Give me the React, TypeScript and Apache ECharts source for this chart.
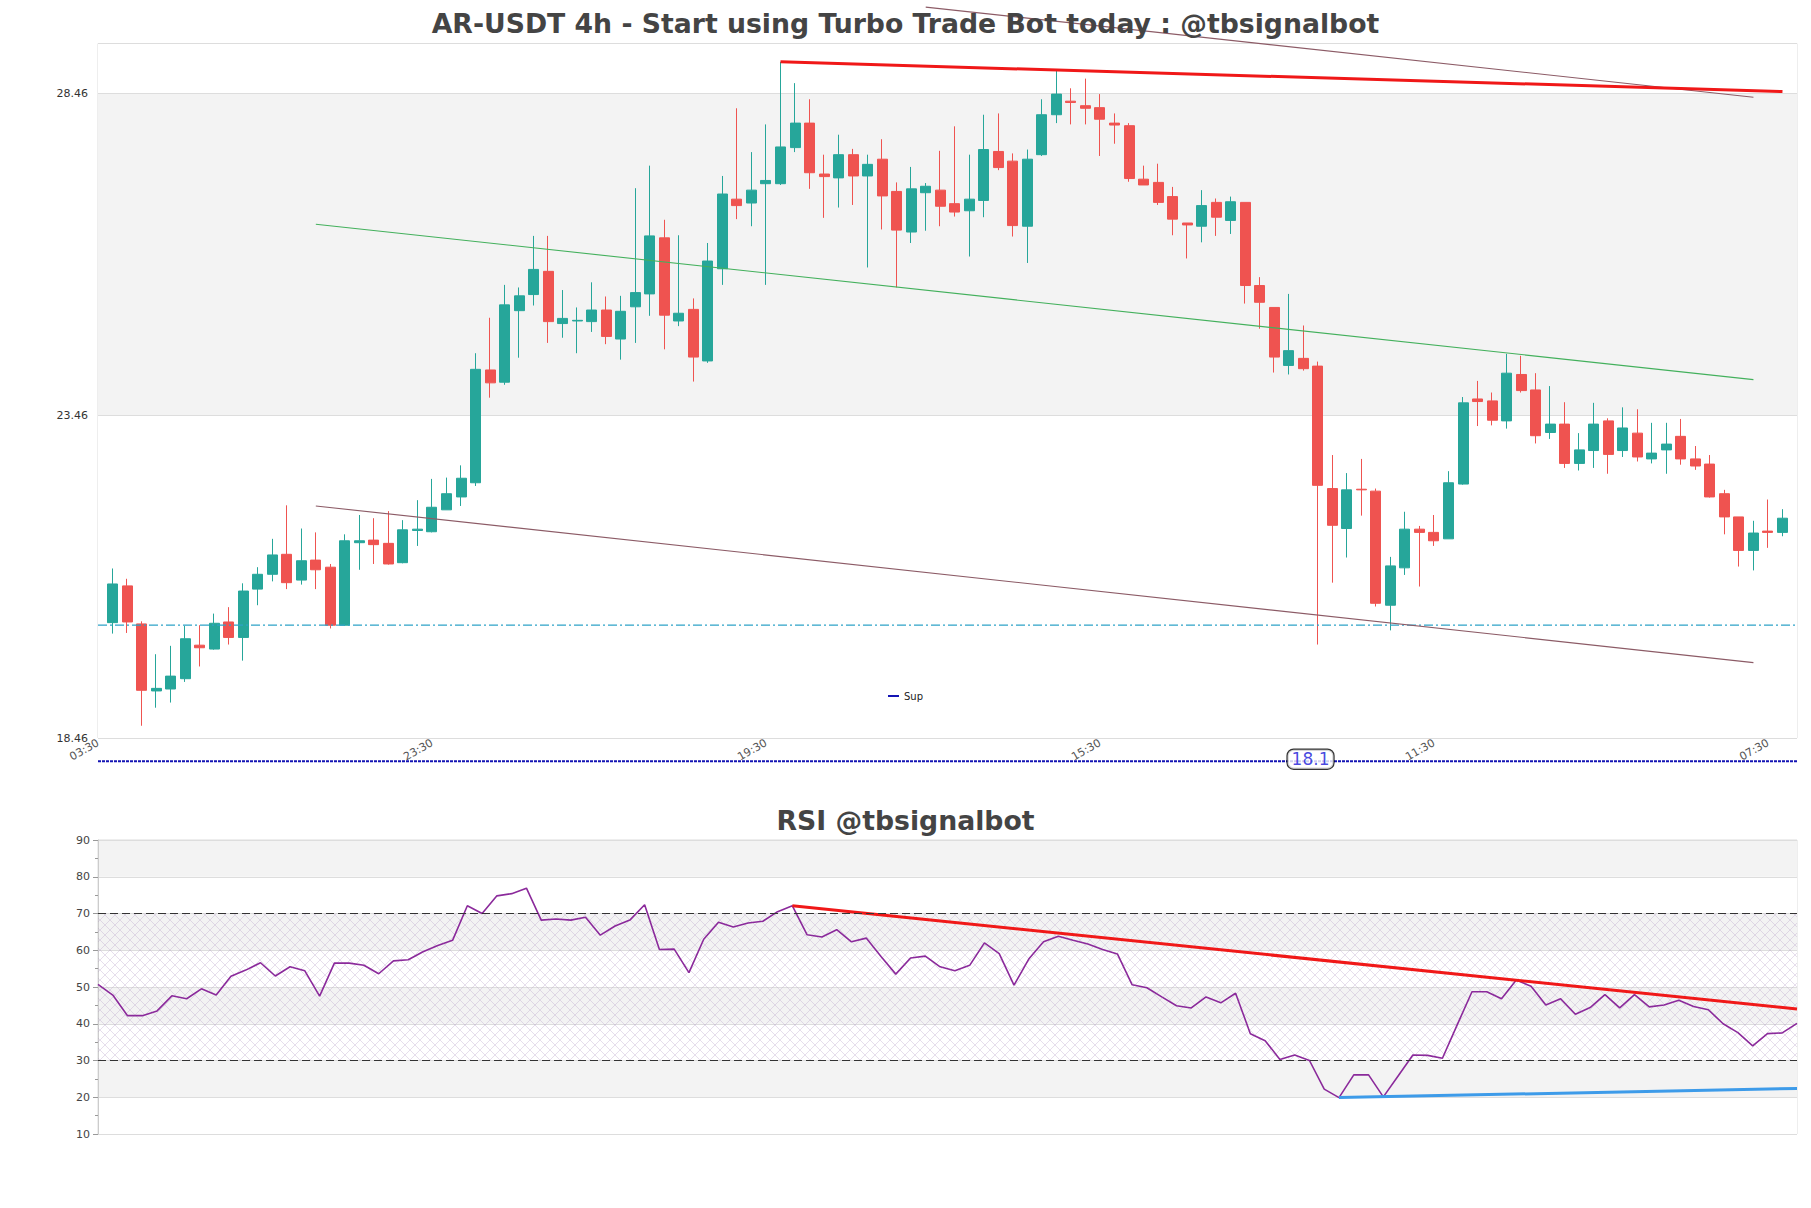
import React, { useEffect, useRef } from "react";
import * as echarts from "echarts";

const FONT = "DejaVu Sans";

// Candle data (index 0..115, 4h candles)
const candleOpen = [
  20.25, 20.82, 20.23, 19.19, 19.22, 19.38, 19.9, 19.84, 20.26, 20.02,
  20.77, 21.0, 21.31, 20.91, 21.22, 21.11, 20.21, 21.49, 21.53, 21.48,
  21.18, 21.68, 21.66, 22.0, 22.2, 22.42, 24.17, 23.98, 25.09, 25.34,
  25.7, 24.89, 24.93, 24.92, 25.1, 24.65, 25.15, 25.35, 26.22, 24.93,
  25.11, 24.31, 25.74, 26.82, 26.76, 27.06, 27.06, 27.62, 28.0, 27.21,
  27.15, 27.51, 27.18, 27.44, 26.94, 26.31, 26.92, 26.96, 26.75, 26.64,
  26.8, 27.56, 27.41, 26.4, 27.51, 28.13, 28.34, 28.27, 28.24, 28.0,
  27.96, 27.13, 27.08, 26.86, 26.45, 26.4, 26.77, 26.49, 26.77, 25.48,
  25.14, 24.24, 24.35, 24.23, 22.33, 21.71, 22.32, 22.29, 20.52, 21.1,
  21.7, 21.65, 21.55, 22.4, 23.72, 23.69, 23.38, 24.1, 23.86, 23.2,
  23.33, 22.72, 22.92, 23.38, 22.92, 23.19, 22.79, 22.93, 23.14, 22.79,
  22.71, 22.25, 21.89, 21.37, 21.67, 21.65,
];
const candleClose = [
  20.85, 20.26, 19.2, 19.23, 19.42, 20.0, 19.86, 20.24, 20.02, 20.74,
  21.0, 21.3, 20.87, 21.21, 21.07, 20.21, 21.52, 21.52, 21.46, 21.16,
  21.69, 21.7, 22.04, 22.25, 22.49, 24.18, 23.97, 25.18, 25.32, 25.73,
  24.92, 24.97, 24.94, 25.1, 24.69, 25.08, 25.37, 26.25, 25.02, 25.05,
  24.37, 25.86, 26.9, 26.72, 26.96, 27.11, 27.63, 28.0, 27.23, 27.17,
  27.51, 27.18, 27.36, 26.87, 26.34, 26.98, 27.02, 26.71, 26.62, 26.82,
  27.59, 27.31, 26.41, 27.44, 28.13, 28.45, 28.32, 28.23, 28.06, 27.97,
  27.14, 27.04, 26.77, 26.51, 26.42, 26.72, 26.54, 26.78, 25.48, 25.22,
  24.37, 24.47, 24.19, 22.38, 21.76, 22.31, 22.31, 20.55, 21.13, 21.7,
  21.65, 21.52, 22.42, 23.66, 23.68, 23.39, 24.12, 23.85, 23.15, 23.33,
  22.72, 22.93, 23.33, 22.86, 23.27, 22.82, 22.88, 23.02, 22.79, 22.68,
  22.2, 21.89, 21.37, 21.64, 21.65, 21.87,
];
const candleLow = [
  20.08, 20.09, 18.65, 18.93, 19.01, 19.33, 19.57, 19.83, 19.91, 19.66,
  20.52, 20.89, 20.77, 20.84, 20.77, 20.16, 20.2, 21.07, 21.16, 21.15,
  21.17, 21.44, 21.65, 22.0, 22.06, 22.37, 23.74, 23.94, 24.36, 25.17,
  24.59, 24.67, 24.43, 24.76, 24.57, 24.33, 24.59, 25.01, 24.49, 24.85,
  23.99, 24.28, 25.49, 26.51, 26.4, 25.49, 27.04, 27.55, 26.98, 26.53,
  26.69, 26.73, 25.76, 26.35, 25.45, 26.14, 26.33, 26.4, 26.55, 25.93,
  26.54, 27.27, 26.24, 25.83, 27.49, 28.0, 27.98, 27.98, 27.49, 27.68,
  27.09, 27.04, 26.73, 26.26, 25.9, 26.15, 26.25, 26.28, 25.2, 24.81,
  24.13, 24.1, 24.16, 19.91, 20.87, 21.26, 21.91, 20.5, 20.13, 20.99,
  20.81, 21.44, 21.55, 22.39, 23.3, 23.31, 23.26, 23.82, 23.03, 23.1,
  22.65, 22.61, 22.65, 22.56, 22.82, 22.75, 22.72, 22.56, 22.7, 22.62,
  22.19, 21.62, 21.12, 21.06, 21.41, 21.59,
];
const candleHigh = [
  21.09, 20.93, 20.27, 19.76, 19.89, 20.2, 20.21, 20.39, 20.49, 20.86,
  21.11, 21.55, 22.07, 21.71, 21.65, 21.16, 21.62, 21.92, 21.87, 21.98,
  21.84, 22.15, 22.48, 22.5, 22.69, 24.43, 24.98, 25.49, 25.45, 26.25,
  26.25, 25.41, 25.14, 25.53, 25.31, 25.32, 26.99, 27.34, 26.5, 26.26,
  25.28, 26.14, 27.18, 28.23, 27.55, 27.98, 28.95, 28.62, 28.37, 27.51,
  27.82, 27.6, 27.51, 27.75, 27.08, 27.32, 27.07, 27.57, 27.95, 27.51,
  28.13, 28.15, 27.53, 27.59, 28.37, 28.83, 28.54, 28.69, 28.45, 28.15,
  28.0, 27.34, 27.37, 27.01, 26.45, 26.96, 26.83, 26.86, 26.77, 25.61,
  25.14, 25.35, 24.86, 24.3, 22.85, 22.57, 22.79, 22.33, 21.27, 21.97,
  21.75, 21.92, 22.6, 23.75, 24.0, 23.82, 24.42, 24.39, 24.12, 23.92,
  23.67, 23.19, 23.66, 23.42, 23.59, 23.56, 23.35, 23.35, 23.41, 22.99,
  22.85, 22.31, 21.89, 21.83, 22.16, 22.01,
];

// RSI values (116 points)
const rsiValues = [
  50.7, 47.8, 42.2, 42.2, 43.5, 47.6, 46.8, 49.5, 47.8, 52.9,
  54.6, 56.6, 53.0, 55.5, 54.4, 47.5, 56.5, 56.5, 55.9, 53.6,
  57.1, 57.4, 59.6, 61.3, 62.7, 72.1, 70.0, 74.8, 75.4, 76.9,
  68.2, 68.5, 68.2, 69.0, 64.1, 66.6, 68.2, 72.4, 60.2, 60.3,
  53.9, 63.0, 67.6, 66.3, 67.4, 67.9, 70.5, 72.1, 64.2, 63.6,
  65.6, 62.3, 63.3, 58.3, 53.5, 57.9, 58.4, 55.5, 54.4, 55.9,
  62.0, 59.1, 50.5, 57.6, 62.3, 63.8, 62.7, 61.7, 60.2, 59.0,
  50.6, 49.8, 47.3, 44.9, 44.3, 47.3, 45.7, 48.3, 37.3, 35.4,
  30.3, 31.5, 30.0, 22.2, 19.9, 26.1, 26.1, 20.1, 25.8, 31.5,
  31.4, 30.6, 39.7, 48.7, 48.7, 46.8, 51.9, 50.2, 45.1, 46.8,
  42.6, 44.4, 47.9, 44.3, 47.9, 44.6, 45.1, 46.4, 44.7, 43.8,
  40.0, 37.6, 34.0, 37.3, 37.5, 40.1,
];

// x tick labels, one every 23 candles starting at index -1
const xTickLabels = ["03:30", "23:30", "19:30", "15:30", "11:30", "07:30"];

// trend lines: [x, price]
const resistanceLine = [[46, 28.95], [115, 28.49]];
const upperChannelLine = [[56, 29.8], [113, 28.4]];
const midChannelLine = [[14, 26.43], [113, 24.02]];
const lowerChannelLine = [[14, 22.06], [113, 19.63]];
const supportLevel = 20.21;
const supLevel = 18.1;
const supLabelAt = 82.5;

// RSI trend lines: [index, rsi]
const rsiResistance = [[47, 72.1], [115, 44.0]];
const rsiSupport = [[84, 19.9], [115, 22.4]];

function makeHatch(): any {
  try {
    const c = document.createElement("canvas");
    c.width = 10;
    c.height = 10;
    const ctx = c.getContext("2d");
    if (!ctx) return "rgba(190,160,205,0.12)";
    ctx.strokeStyle = "rgba(175,150,195,0.45)";
    ctx.lineWidth = 0.7;
    ctx.beginPath();
    ctx.moveTo(0, 0);
    ctx.lineTo(10, 10);
    ctx.moveTo(10, 0);
    ctx.lineTo(0, 10);
    ctx.stroke();
    return { image: c, repeat: "repeat" };
  } catch (e) {
    return "rgba(190,160,205,0.12)";
  }
}

export default function App() {
  const ref = useRef<HTMLDivElement>(null);

  useEffect(() => {
    if (!ref.current) return;
    const chart = echarts.init(ref.current, undefined, { renderer: "svg" });
    const N = candleOpen.length;
    const candles = candleOpen.map((o, i) => [i, o, candleClose[i], candleLow[i], candleHigh[i]]);
    const rsi = rsiValues.map((v, k) => [k, v]);
    const titleStyle = { fontFamily: FONT, fontWeight: "bold", fontSize: 26.7, color: "#444" };
    const xMin = -1;
    const xMax = N;

    const option: any = {
      animation: false,
      backgroundColor: "#ffffff",
      textStyle: { fontFamily: FONT },
      title: [
        { text: "AR-USDT 4h - Start using Turbo Trade Bot today : @tbsignalbot", left: "center", top: 5, textStyle: titleStyle },
        { text: "RSI @tbsignalbot", left: "center", top: 802, textStyle: titleStyle },
      ],
      legend: {
        data: ["Sup"],
        left: 883,
        top: 686,
        icon: "rect",
        itemWidth: 11,
        itemHeight: 2,
        itemGap: 5,
        textStyle: { fontFamily: FONT, fontSize: 10, color: "#222" },
      },
      grid: [
        { left: 98, top: 43.5, width: 1699, height: 694.5, show: true, borderColor: "#dddddd", borderWidth: 1 },
        { left: 98, top: 840, width: 1699, height: 294, show: true, borderColor: "#dddddd", borderWidth: 1 },
      ],
      xAxis: [
        {
          type: "value",
          gridIndex: 0,
          min: xMin,
          max: xMax,
          interval: 23,
          axisLine: { show: false },
          axisTick: { show: false },
          splitLine: { show: false },
          axisLabel: {
            rotate: 30,
            fontSize: 11,
            color: "#555",
            margin: 4,
            fontFamily: FONT,
            showMaxLabel: false,
            formatter: (v: number) => {
              const j = (v - xMin) / 23;
              if (Math.abs(j - Math.round(j)) < 1e-6 && Math.round(j) < xTickLabels.length) return xTickLabels[Math.round(j)];
              return "";
            },
          },
        },
        {
          type: "value",
          gridIndex: 1,
          min: 0,
          max: rsiValues.length - 1,
          axisLine: { show: false },
          axisTick: { show: false },
          axisLabel: { show: false },
          splitLine: { show: false },
        },
      ],
      yAxis: [
        {
          type: "value",
          gridIndex: 0,
          min: 18.46,
          max: 29.235,
          interval: 5,
          axisLine: { show: false },
          axisTick: { show: false },
          splitLine: { show: true, lineStyle: { color: "#dddddd", width: 1 } },
          splitArea: { show: true, areaStyle: { color: ["#ffffff", "#f3f3f3"] } },
          axisLabel: {
            fontSize: 11,
            color: "#333",
            margin: 10,
            fontFamily: FONT,
            showMaxLabel: false,
            formatter: (v: number) => v.toFixed(2),
          },
        },
        {
          type: "value",
          gridIndex: 1,
          min: 10,
          max: 90,
          interval: 10,
          axisLine: { show: true, lineStyle: { color: "#cccccc" } },
          axisTick: { show: true, length: 5, lineStyle: { color: "#999" } },
          minorTick: { show: true, splitNumber: 2, length: 3, lineStyle: { color: "#999" } },
          splitLine: { show: true, lineStyle: { color: "#dddddd" } },
          splitArea: { show: true, areaStyle: { color: ["#ffffff", "#f3f3f3"] } },
          axisLabel: { fontSize: 11, color: "#444", margin: 8, fontFamily: FONT },
        },
      ],
      series: [
        {
          type: "candlestick",
          name: "AR-USDT",
          xAxisIndex: 0,
          yAxisIndex: 0,
          data: candles,
          barWidth: 10.5,
          itemStyle: {
            color: "#26a69a",
            color0: "#ef5350",
            borderColor: "#26a69a",
            borderColor0: "#ef5350",
            borderWidth: 1,
          },
        },
        {
          type: "line",
          name: "Support",
          xAxisIndex: 0,
          yAxisIndex: 0,
          data: [[xMin, supportLevel], [xMax, supportLevel]],
          symbol: "none",
          lineStyle: { color: "#2ea3c7", width: 1.2, type: [9, 3, 2, 3] },
          z: 3,
        },
        {
          type: "line",
          name: "MidChannel",
          xAxisIndex: 0,
          yAxisIndex: 0,
          data: midChannelLine,
          symbol: "none",
          lineStyle: { color: "#43b05c", width: 1.1 },
          z: 3,
        },
        {
          type: "line",
          name: "LowerChannel",
          xAxisIndex: 0,
          yAxisIndex: 0,
          data: lowerChannelLine,
          symbol: "none",
          lineStyle: { color: "#8c5b66", width: 1.1 },
          z: 3,
        },
        {
          type: "line",
          name: "UpperChannel",
          xAxisIndex: 0,
          yAxisIndex: 0,
          data: upperChannelLine,
          symbol: "none",
          clip: false,
          lineStyle: { color: "#8c5b66", width: 1.1 },
          z: 3,
        },
        {
          type: "line",
          name: "Resistance",
          xAxisIndex: 0,
          yAxisIndex: 0,
          data: resistanceLine,
          symbol: "none",
          clip: false,
          lineStyle: { color: "#f01818", width: 3 },
          z: 4,
        },
        {
          type: "line",
          name: "Sup",
          xAxisIndex: 0,
          yAxisIndex: 0,
          data: [[xMin, supLevel], [xMax, supLevel]],
          symbol: "none",
          clip: false,
          color: "#1414b4",
          itemStyle: { color: "#1414b4" },
          lineStyle: { color: "#1414b4", width: 2, type: [3, 1] },
          z: 3,
        },
        {
          type: "scatter",
          name: "SupLabel",
          xAxisIndex: 0,
          yAxisIndex: 0,
          data: [[supLabelAt, supLevel]],
          symbolSize: 1,
          itemStyle: { color: "transparent" },
          clip: false,
          z: 6,
          label: {
            show: true,
            position: "inside",
            offset: [0, -2],
            formatter: String(supLevel),
            fontFamily: FONT,
            fontSize: 17,
            color: "#1818d8",
            backgroundColor: "#ffffff",
            borderColor: "#000000",
            borderWidth: 1.2,
            borderRadius: 6,
            padding: [1, 4, 0, 4],
            lineHeight: 18,
          },
        },
        {
          type: "line",
          name: "RSI",
          xAxisIndex: 1,
          yAxisIndex: 1,
          data: rsi,
          symbol: "none",
          lineStyle: { color: "#8b2a9b", width: 1.6 },
          z: 3,
          markArea: {
            silent: true,
            itemStyle: { color: makeHatch() },
            data: [[{ yAxis: 30 }, { yAxis: 70 }]],
          },
          markLine: {
            silent: true,
            symbol: ["none", "none"],
            label: { show: false },
            lineStyle: { type: [8, 4], color: "#333333", width: 1.2 },
            data: [{ yAxis: 70 }, { yAxis: 30 }],
          },
        },
        {
          type: "line",
          name: "RSIRes",
          xAxisIndex: 1,
          yAxisIndex: 1,
          data: rsiResistance,
          symbol: "none",
          lineStyle: { color: "#f01818", width: 3 },
          z: 4,
        },
        {
          type: "line",
          name: "RSISup",
          xAxisIndex: 1,
          yAxisIndex: 1,
          data: rsiSupport,
          symbol: "none",
          lineStyle: { color: "#3d9be9", width: 3 },
          z: 4,
        },
      ],
    };
    chart.setOption(option);
    return () => chart.dispose();
  }, []);

  return <div ref={ref} style={{ position: "fixed", left: 0, top: 0, width: 1811, height: 1208, background: "#fff" }} />;
}
